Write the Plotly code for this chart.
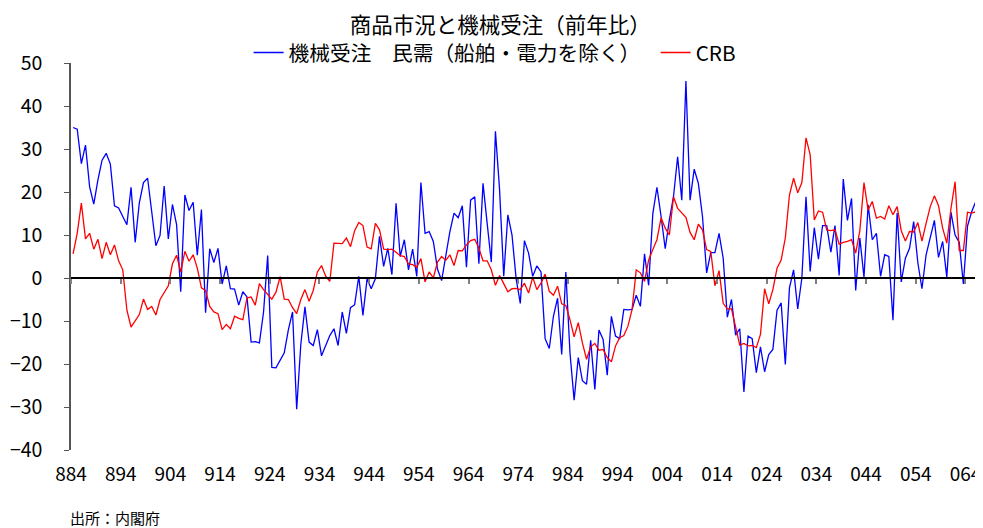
import plotly.graph_objects as go

# 月次データ（1988年4月～）
machinery = [
    35.0, 34.6, 26.6, 30.9, 21.2, 17.2, 22.8, 27.4, 29.0, 26.5, 16.8, 16.3, 14.3, 12.4, 21.1, 8.3, 17.5, 22.2, 23.2, 15.1,
    7.5, 9.9, 21.4, 9.1, 17.1, 12.4, -3.2, 19.3, 15.7, 17.6, 5.3, 15.9, -8.1, 6.8, 3.6, 6.9, -1.4, 2.8, -2.5, -2.6,
    -6.3, -3.2, -4.4, -14.9, -14.8, -15.1, -7.9, 5.2, -20.8, -20.9, -19.2, -17.4, -12.0, -7.9, -30.5, -15.4, -6.7, -14.9, -15.7, -12.0,
    -18.1, -15.8, -13.4, -11.8, -15.7, -7.9, -12.9, -6.9, -6.2, 0.4, -8.7, -0.2, -2.5, -0.2, 9.7, 2.7, 6.9, 0.8, 17.4,
    5.0, 8.9, 1.9, 6.7, 0.4, 22.2, 10.4, 10.8, 8.5, 2.1, -0.6, 5.6, 10.8, 15.1, 14.0, 16.8, 2.5, 18.1, 18.9, 3.3,
    22.0, 12.7, 3.7, 34.1, 20.5, 0.4, 14.7, 10.0, -0.2, -5.9, 8.7, 5.8, 0.4, 2.8, 1.4, -14.1, -16.4, -8.9, -4.7, -17.8,
    1.4, -17.4, -28.4, -18.5, -23.9, -24.7, -14.5, -25.9, -12.1, -14.3, -22.6, -8.9, -13.5, -14.1, -7.3, -7.4, -7.3, -4.0, -6.6, 5.6,
    -1.7, 14.9, 21.1, 14.3, 6.8, 13.5, 18.9, 28.2, 18.1, 45.8, 18.1, 25.3, 22.0, 14.3, 1.2, 5.9, 5.9, 10.4, 4.6, -9.1,
    -5.0, -13.3, -11.8, -26.5, -13.5, -14.1, -22.0, -16.0, -21.8, -17.8, -16.6, -7.5, -5.8, -20.1, -2.3, 1.9, -7.2, 0.0, 18.9, 1.5,
    11.7, 4.4, 12.2, 12.2, 6.0, 12.2, 0.6, 23.0, 13.4, 18.5, -2.9, 9.3, 0.2, 17.0, 8.9, 10.4, 0.4, 5.4, 5.0, -9.8,
    15.1, -0.9, 4.6, 6.9, 13.1, 3.6, -2.5, 5.4, 9.8, 13.4, 4.8, 8.5, 0.2, 15.3, 10.0, 8.3, -1.4, 12.1, 15.4, 17.8,
]

crb = [
    5.6, 10.4, 17.4, 9.1, 10.4, 6.7, 9.0, 4.5, 8.3, 5.4, 7.7, 4.0, 1.9, -7.5, -11.4, -10.0, -8.5, -4.9, -7.3, -6.6,
    -8.6, -5.0, -3.5, -1.8, 3.3, 5.3, 1.4, 6.2, 3.9, 5.4, 2.3, -2.3, -2.9, -6.6, -7.9, -8.3, -12.0, -10.8, -11.8, -8.9,
    -9.4, -9.7, -4.6, -4.4, -6.3, -1.3, -2.7, -3.9, -4.9, -3.3, 0.3, -4.9, -5.0, -6.9, -8.3, -5.0, -2.7, -5.4, -2.9, 1.4,
    2.9, 0.4, -0.8, 8.1, 8.1, 8.0, 9.3, 7.3, 11.0, 12.9, 12.2, 7.2, 6.8, 12.7, 11.2, 6.7, 6.6, 6.7, 6.0,
    5.2, 5.0, 3.3, 3.1, 2.5, 4.5, -0.9, 1.4, 0.0, 3.7, 5.0, 4.1, 5.4, 2.9, 6.4, 6.3, 7.7, 8.7, 9.0, 6.9,
    4.0, 4.0, 1.9, -1.7, 0.6, -1.3, -3.2, -2.5, -2.4, -2.7, -1.2, -3.5, 0.2, -2.7, -1.2, 0.9, -3.1, -4.0, -1.9, -6.0,
    -6.4, -9.7, -13.7, -10.4, -15.1, -18.9, -16.0, -15.2, -16.8, -16.6, -18.5, -19.5, -15.8, -13.9, -13.4, -11.2, -7.3, 1.9, 1.2, -0.8,
    4.2, 6.6, 8.9, 14.0, 11.6, 10.0, 18.9, 16.2, 15.2, 14.1, 10.6, 8.9, 12.5, 11.2, 6.6, 6.2, -1.8, 1.7, -5.9, -7.2,
    -7.2, -11.2, -15.6, -15.2, -15.8, -15.7, -16.2, -13.1, -2.5, -6.0, -2.7, 2.3, 4.2, 9.3, 19.3, 23.2, 19.8, 22.2, 32.6, 28.7,
    13.5, 15.6, 15.3, 11.2, 11.0, 11.2, 7.9, 8.3, 8.5, 8.9, 5.8, 11.0, 22.2, 15.8, 17.8, 13.9, 14.3, 13.7, 16.8, 14.7,
    16.6, 11.0, 8.6, 10.8, 10.7, 12.9, 8.6, 12.7, 16.6, 19.1, 16.8, 11.6, 8.1, 16.1, 22.4, 6.4, 6.4, 15.3, 15.1, 15.4, 12.4,
]

tick_labels = ["884", "894", "904", "914", "924", "934", "944", "954", "964", "974",
               "984", "994", "004", "014", "024", "034", "044", "054", "064"]
tick_pos = [12 * k - 0.5 for k in range(len(tick_labels))]

FONT = "Noto Sans CJK JP"

fig = go.Figure()
fig.add_trace(go.Scatter(
    x=list(range(len(machinery))), y=machinery, mode="lines",
    name="機械受注　民需（船舶・電力を除く）\u3000",
    line=dict(color="#0000FF", width=1.3),
))
fig.add_trace(go.Scatter(
    x=list(range(len(crb))), y=crb, mode="lines", name="CRB",
    line=dict(color="#FF0000", width=1.3), xaxis="x2",
))

# the page body adds an 8px offset, so the figure is sized to fill the rest of the window
fig.update_layout(
    width=975, height=520,
    margin=dict(l=63, r=1, t=55, b=78, autoexpand=False),
    plot_bgcolor="white", paper_bgcolor="white",
    font=dict(family=FONT, color="black"),
    title=dict(text="商品市況と機械受注（前年比）", x=0.505, xanchor="center",
               y=1 - 17 / 520, yanchor="middle", yref="container",
               font=dict(size=21.5, family=FONT, color="black")),
    showlegend=True,
    legend=dict(orientation="h", x=0.465, xanchor="center", y=1.027, yanchor="middle",
                font=dict(size=20.7, family=FONT), bgcolor="rgba(0,0,0,0)"),
    xaxis=dict(range=[-0.5, 219.5], tickvals=tick_pos, ticktext=tick_labels,
               showline=False, ticks="", showgrid=False, zeroline=False,
               tickfont=dict(size=19, family=FONT), ticklabelstandoff=11),
    xaxis2=dict(range=[-0.5, 219.5], overlaying="x", anchor="free", position=40 / 90,
                tickvals=tick_pos, showticklabels=False, showline=True,
                linecolor="black", linewidth=1.5, ticks="outside", ticklen=5,
                tickwidth=2, tickcolor="#808080", showgrid=False, zeroline=False),
    yaxis=dict(range=[-40, 50], tickvals=list(range(-40, 51, 10)), showline=True,
               linecolor="#555555", linewidth=1.5, ticks="outside", ticklen=5,
               tickcolor="#555555", showgrid=False, zeroline=False,
               tickfont=dict(size=19.5, family=FONT), ticklabelstandoff=18),
    annotations=[dict(text="出所：内閣府", xref="paper", yref="paper",
                      x=(68 - 71) / 911, y=(450 - 517) / 387, xanchor="left",
                      yanchor="middle", showarrow=False,
                      font=dict(size=15, family=FONT))],
)

fig.write_html("out.html")
